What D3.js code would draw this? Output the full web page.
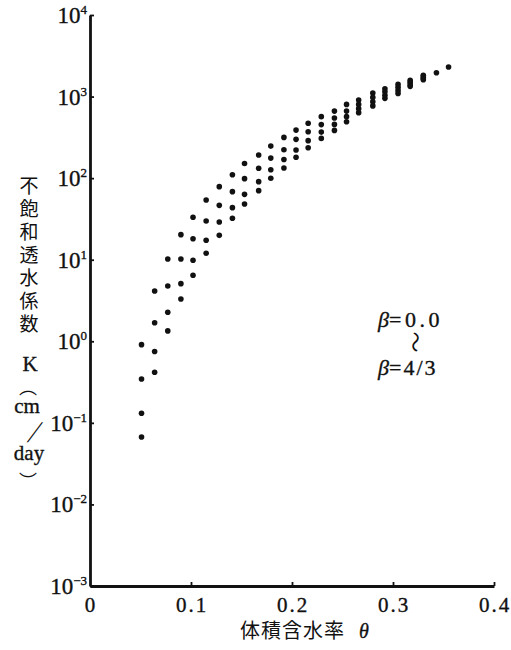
<!DOCTYPE html>
<html>
<head>
<meta charset="utf-8">
<script src="https://cdn.jsdelivr.net/npm/d3@7"></script>
<style>
  body { margin: 0; background: #fff; }
  svg { display: block; }
  .serif { font-family: "Liberation Serif", "DejaVu Serif", serif; fill: #111; stroke: #111; stroke-width: 0.35px; }
  .cjk { font-family: "Noto Sans CJK JP", sans-serif; fill: #111; }
  .axis path, .axis line { stroke: #111; }
</style>
</head>
<body>
<div class="chart"></div>
<script>
// moisture content theta for each column of dots
const theta = [0.051, 0.064, 0.077, 0.090, 0.102, 0.115, 0.128, 0.141, 0.153, 0.167,
  0.179, 0.192, 0.204, 0.216, 0.229, 0.242, 0.254, 0.266, 0.280, 0.292,
  0.305, 0.317, 0.330, 0.343, 0.355]

// K (cm/day), four beta curves, top to bottom
const kA = [0.91, 4.13, 10.2, 20.3, 33.1, 53.9, 78.7, 110, 151, 192,
  247, 316, 388, 470, 567, 664, 802, 906, 1104, 1243,
  1410, 1588, 1820, 1963, 2300]
const kB = [0.345, 1.69, 4.76, 10.2, 18.1, 29.8, 46.4, 68.3, 98.6, 132,
  176, 223, 299, 371, 453, 545, 664, 802, 977, 1142,
  1297, 1493, 1743, null, null]
const kC = [0.131, 0.748, 2.27, 5.09, 9.83, 17.3, 29.0, 43.5, 63.3, 90.6,
  127, 169, 221, 288, 367, 456, 567, 711, 861, 1035,
  1191, 1410, 1671, null, null]
const kD = [0.067, 0.417, 1.34, 3.30, 6.44, 12.0, 19.9, 32.2, 48.2, 70.3,
  99.5, 133, 180, 236, 307, 385, 492, 635, 769, 951,
  1094, 1334, 1611, null, null]

const xTicks = [0, 0.1, 0.2, 0.3, 0.4]
const yExp = [-3, -2, -1, 0, 1, 2, 3, 4]
const yTitle = ['不', '飽', '和', '透', '水', '係', '数']
const xTitle = '体積含水率'

const width = 511
const height = 650

let svg = d3.select('.chart').append('svg')
  .attr('width', width)
  .attr('height', height)

let x = d3.scaleLinear().domain([0, 0.4]).range([90, 494])
let y = d3.scaleLog().domain([1e-3, 1e4]).range([586, 15])

// axes, ticks pointing inward
svg.append('g')
  .attr('class', 'axis')
  .attr('transform', 'translate(0,' + y(1e-3) + ')')
  .call(d3.axisBottom(x).tickValues(xTicks.slice(1)).tickSizeInner(-4).tickSizeOuter(0).tickFormat(''))

svg.append('g')
  .attr('class', 'axis')
  .attr('transform', 'translate(' + x(0) + ',0)')
  .call(d3.axisLeft(y).tickValues(yExp.map(e => Math.pow(10, e))).tickSizeInner(-4).tickSizeOuter(0).tickFormat(''))

svg.selectAll('.axis path').attr('stroke-width', 2.8)
svg.selectAll('.axis line').attr('stroke-width', 1.8)

// x tick labels
svg.append('g')
  .selectAll('text')
  .data(xTicks)
  .enter()
  .append('text')
  .attr('class', 'serif')
  .attr('x', d => x(d) + (d ? 1 : 0))
  .attr('y', 612)
  .attr('text-anchor', 'middle')
  .style('font-size', '21px')
  .style('letter-spacing', d => d ? '2px' : '0px')
  .text(d => d === 0 ? '0' : d.toFixed(1))

// y tick labels 10^n
let yLab = svg.append('g')
  .selectAll('text')
  .data(yExp)
  .enter()
  .append('text')
  .attr('class', 'serif')
  .attr('x', 87)
  .attr('y', d => y(Math.pow(10, d)) + 8)
  .attr('text-anchor', 'end')
  .style('font-size', '23px')

yLab.append('tspan').text('10')
yLab.append('tspan')
  .attr('dy', -9)
  .style('font-size', '13px')
  .text(d => d < 0 ? '\u2212' + (-d) : String(d))

// dots
let series = [kA, kB, kC, kD]
let dots = []
series.forEach(s => s.forEach((k, i) => { if (k != null) dots.push({ t: theta[i], k: k }) }))

svg.append('g')
  .selectAll('circle')
  .data(dots)
  .enter()
  .append('circle')
  .attr('cx', d => x(d.t))
  .attr('cy', d => y(d.k))
  .attr('r', 2.8)
  .style('fill', '#111')

// x title
let xt = svg.append('text')
  .attr('x', 240)
  .attr('y', 638)
  .style('font-size', '20px')
xt.append('tspan').attr('class', 'cjk').style('letter-spacing', '1px').text(xTitle)
xt.append('tspan').attr('class', 'serif').attr('dx', 14).style('font-style', 'italic').text('θ')

// y title, vertical
svg.append('g')
  .selectAll('text')
  .data(yTitle)
  .enter()
  .append('text')
  .attr('class', 'cjk')
  .attr('x', 29)
  .attr('y', (d, i) => 184 + i * 23)
  .attr('text-anchor', 'middle')
  .attr('dominant-baseline', 'central')
  .style('font-size', '19px')
  .text(d => d)

let unit = svg.append('g')
unit.append('text').attr('class', 'serif').attr('x', 30).attr('y', 371).attr('text-anchor', 'middle').style('font-size', '21px').text('K')
unit.append('text').attr('class', 'cjk').attr('x', 28).attr('y', 386).attr('text-anchor', 'middle')
  .attr('dominant-baseline', 'central').style('font-size', '18px').text('\uFE35')
unit.append('text').attr('class', 'serif').attr('x', 27).attr('y', 413).attr('text-anchor', 'middle').style('font-size', '21px').text('cm')
unit.append('text').attr('class', 'serif').attr('transform', 'translate(31,442) skewX(-22)').attr('text-anchor', 'middle')
  .style('font-size', '30px').style('stroke-width', '0px').text('/')
unit.append('text').attr('class', 'serif').attr('x', 29).attr('y', 460).attr('text-anchor', 'middle').style('font-size', '21px').text('day')
unit.append('text').attr('class', 'cjk').attr('x', 28).attr('y', 480).attr('text-anchor', 'middle')
  .attr('dominant-baseline', 'central').style('font-size', '18px').text('\uFE36')

// legend
let leg = svg.append('g').attr('class', 'serif').style('font-size', '22px')
let l1 = leg.append('text').attr('x', 378).attr('y', 327)
l1.append('tspan').style('font-style', 'italic').text('β')
l1.append('tspan').style('letter-spacing', '3.5px').text('=0.0')
leg.append('text').attr('class', 'cjk').attr('transform', 'translate(417,342) rotate(90)').attr('text-anchor', 'middle')
  .attr('dominant-baseline', 'central').style('font-size', '21px').style('stroke-width', '0px').text('〜')
let l2 = leg.append('text').attr('x', 378).attr('y', 375)
l2.append('tspan').style('font-style', 'italic').text('β')
l2.append('tspan').style('letter-spacing', '2px').text('=4/3')
</script>
</body>
</html>
